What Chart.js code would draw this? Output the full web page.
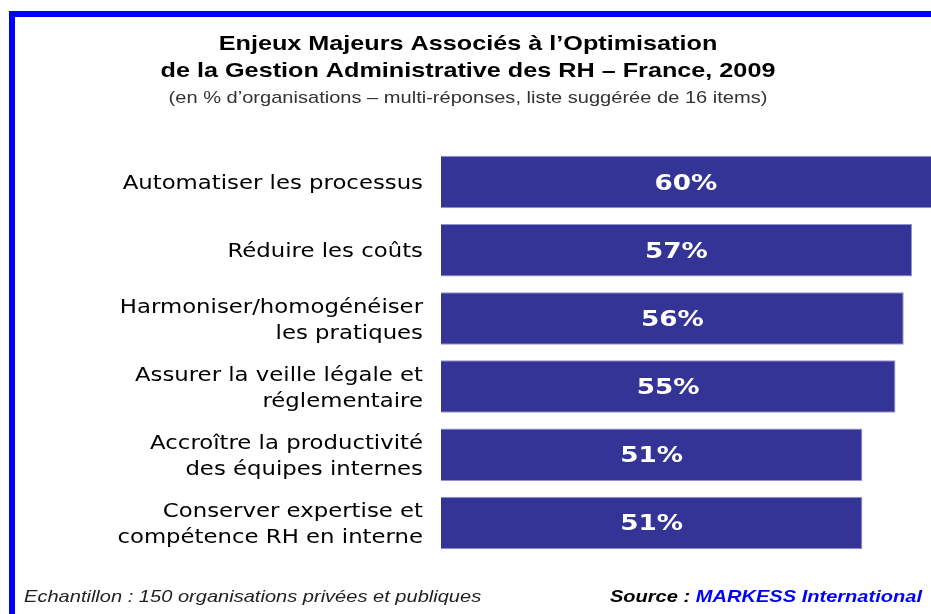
<!doctype html>
<html>

<head>
  <title>Enjeux Majeurs - Gestion Administrative RH</title>
  <script src="https://cdn.jsdelivr.net/npm/chart.js@4.4.1/dist/chart.umd.min.js"></script>
  <style>
    html, body {
      margin: 0;
      padding: 0;
      background: #fff;
    }
    .chart {
      width: 931px;
      height: 614px;
    }
  </style>
</head>

<body>
  <div class="chart">
    <canvas id="myChart" width="931" height="614"></canvas>
  </div>

  <script>
    var categories = [
      'Automatiser les processus',
      'Réduire les coûts',
      ['Harmoniser/homogénéiser', 'les pratiques'],
      ['Assurer la veille légale et', 'réglementaire'],
      ['Accroître la productivité', 'des équipes internes'],
      ['Conserver expertise et', 'compétence RH en interne']
    ];
    var values = [60, 57, 56, 55, 51, 51];

    var titleLines = [
      'Enjeux Majeurs Associés à l\u2019Optimisation',
      'de la Gestion Administrative des RH \u2013 France, 2009'
    ];
    var subtitle = '(en % d\u2019organisations \u2013 multi-réponses, liste suggérée de 16 items)';
    var sampleNote = 'Echantillon : 150 organisations privées et publiques';
    var sourceLabel = 'Source : ';
    var sourceName = 'MARKESS International';

    var ARIAL = '"Liberation Sans", Arial, sans-serif';
    var VERDANA = '"DejaVu Sans", Verdana, sans-serif';

    // the original text is a bit wider than our fonts, so stretch it sideways
    function wideText(ctx, text, x, y, align, sx) {
      ctx.save();
      ctx.translate(x, y);
      ctx.scale(sx, 1);
      ctx.textAlign = align;
      ctx.fillText(text, 0, 0);
      ctx.restore();
      return ctx.measureText(text).width * sx;
    }

    // frame, titles, footer
    var decorations = {
      id: 'decorations',
      beforeDraw: function(chart) {
        var ctx = chart.ctx;
        ctx.save();
        ctx.fillStyle = '#0000ff';
        ctx.fillRect(9, 11, 922, 6);
        ctx.fillRect(9, 11, 6, 603);

        ctx.textBaseline = 'alphabetic';
        ctx.fillStyle = '#000';
        ctx.font = 'bold 21px ' + ARIAL;
        wideText(ctx, titleLines[0], 468, 50, 'center', 1.2);
        wideText(ctx, titleLines[1], 468, 77, 'center', 1.2);
        ctx.fillStyle = '#333';
        ctx.font = '17px ' + ARIAL;
        wideText(ctx, subtitle, 468, 103, 'center', 1.18);

        ctx.fillStyle = '#222';
        ctx.font = 'italic 17px ' + ARIAL;
        wideText(ctx, sampleNote, 24, 602, 'left', 1.18);

        ctx.font = 'bold italic 17px ' + ARIAL;
        ctx.fillStyle = '#0000ff';
        var w = wideText(ctx, sourceName, 922, 602, 'right', 1.18);
        ctx.fillStyle = '#000';
        wideText(ctx, sourceLabel, 922 - w, 602, 'right', 1.18);
        ctx.restore();
      }
    };

    // category labels to the left of the bars
    var categoryLabels = {
      id: 'categoryLabels',
      afterDraw: function(chart) {
        var ctx = chart.ctx;
        var yScale = chart.scales.y;
        var right = chart.chartArea.left - 18;
        var lineHeight = 26;
        ctx.save();
        ctx.fillStyle = '#000';
        ctx.font = '20px ' + VERDANA;
        ctx.textBaseline = 'middle';
        categories.forEach(function(label, i) {
          var lines = Array.isArray(label) ? label : [label];
          var y0 = yScale.getPixelForTick(i) + 2 - (lines.length - 1) * lineHeight / 2;
          lines.forEach(function(line, j) {
            wideText(ctx, line, right, y0 + j * lineHeight, 'right', 1.14);
          });
        });
        ctx.restore();
      }
    };

    // percent inside each bar, centred on the visible part
    var barValues = {
      id: 'barValues',
      afterDatasetsDraw: function(chart) {
        var ctx = chart.ctx;
        var area = chart.chartArea;
        var meta = chart.getDatasetMeta(0);
        ctx.save();
        ctx.fillStyle = '#fff';
        ctx.font = 'bold 21px ' + VERDANA;
        ctx.textBaseline = 'middle';
        meta.data.forEach(function(bar, i) {
          var right = Math.min(bar.x, area.right);
          var cx = (bar.base + right) / 2;
          wideText(ctx, values[i] + '%', cx, bar.y + 2, 'center', 1.25);
        });
        ctx.restore();
      }
    };

    var config = {
      type: 'bar',
      data: {
        labels: categories,
        datasets: [{
          data: values,
          backgroundColor: '#343497',
          borderColor: '#9494cc',
          borderWidth: 1,
          barPercentage: 0.77,
          categoryPercentage: 1
        }]
      },
      options: {
        indexAxis: 'y',
        responsive: false,
        animation: false,
        layout: {
          padding: {top: 148, bottom: 57, left: 0, right: 0}
        },
        scales: {
          x: {
            display: false,
            min: 0,
            max: 59.3
          },
          y: {
            grid: {display: false, drawTicks: false},
            border: {display: false},
            ticks: {display: false},
            afterFit: function(scale) {
              scale.width = 441;
            }
          }
        },
        plugins: {
          legend: {display: false},
          tooltip: {enabled: false}
        }
      },
      plugins: [decorations, categoryLabels, barValues]
    };

    window.onload = function() {
      var ctx = document.getElementById('myChart').getContext('2d');
      window.myChart = new Chart(ctx, config);
    };
  </script>
</body>

</html>
